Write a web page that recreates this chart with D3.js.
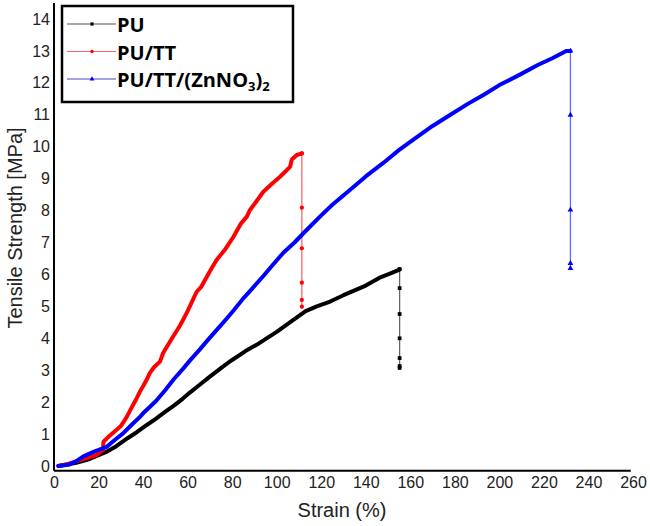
<!DOCTYPE html>
<html>
<head>
<meta charset="utf-8">
<script src="https://cdn.jsdelivr.net/npm/d3@7"></script>
<style>
  html, body { margin: 0; padding: 0; background: #fff; }
  svg { display: block; }
  .tick-label { font-family: "Liberation Sans", Arial, sans-serif; font-size: 16px; fill: #222; }
  .axis-title { font-family: "Liberation Sans", Arial, sans-serif; font-size: 20px; fill: #222; }
  .legend-text { font-family: "Open Sans", Lato, sans-serif; font-weight: bold; font-size: 20px; fill: #000; }
</style>
</head>
<body>
<div id="chart"></div>
<script>
// Tensile strength vs strain, three samples.
// Curves: [strain %, MPa]

const xTicks = [0, 20, 40, 60, 80, 100, 120, 140, 160, 180, 200, 220, 240, 260];
const yTicks = [0, 1, 2, 3, 4, 5, 6, 7, 8, 9, 10, 11, 12, 13, 14];

const puCurve = [
  [2, 0], [10, 0.1], [16, 0.22], [20, 0.34], [24, 0.46], [28, 0.62], [33, 0.87],
  [37, 1.05], [42, 1.3], [46, 1.49], [50, 1.7], [54, 1.9], [58, 2.12], [61, 2.3],
  [65, 2.52], [70, 2.8], [76, 3.12], [80, 3.32], [86, 3.6], [92, 3.84], [96, 4.02],
  [100, 4.2], [105, 4.45], [110, 4.7], [113, 4.85], [118, 5.0], [124, 5.15],
  [130, 5.35], [135, 5.5], [140, 5.65], [146, 5.89], [150, 6.0], [155.2, 6.15]
];
const puDrop = [[155.2, 6.17], [155.2, 5.57], [155.2, 4.76], [155.2, 4.0], [155.2, 3.38], [155.2, 3.13], [155.2, 3.07]];

const puttCurve = [
  [2, 0], [6, 0.06], [12, 0.19], [19, 0.34], [22, 0.5], [22.2, 0.76], [25, 0.95],
  [28, 1.13], [30, 1.25], [32.7, 1.54], [35, 1.85], [37.2, 2.13], [38.6, 2.33],
  [40, 2.5], [41.6, 2.7], [43, 2.91], [45, 3.1], [47.6, 3.27], [49, 3.54], [53, 4.0],
  [56.6, 4.4], [60, 4.85], [64, 5.45], [66, 5.6], [70, 6.1], [73, 6.45], [77, 6.8],
  [80.6, 7.18], [84, 7.6], [86.6, 7.81], [88, 8.02], [91, 8.3], [94, 8.59], [98, 8.85],
  [101.5, 9.06], [106, 9.37], [106.8, 9.6], [109, 9.74], [111.3, 9.79]
];
const puttDrop = [[111.3, 9.79], [111.3, 8.09], [111.3, 6.82], [111.3, 5.74], [111.3, 5.2], [111.3, 4.99]];

const puttZnCurve = [
  [2, 0], [7, 0.05], [10, 0.15], [13.2, 0.3], [18, 0.45], [23.7, 0.6], [27, 0.8],
  [31, 1.02], [35, 1.3], [38.6, 1.54], [40, 1.65], [43, 1.85], [46, 2.05], [50, 2.38],
  [53.6, 2.7], [58, 3.05], [61, 3.3], [65.6, 3.66], [70, 4.02], [74.6, 4.38], [77.6, 4.62],
  [81, 4.9], [85, 5.25], [88, 5.48], [94, 5.95], [98, 6.28], [103, 6.68], [108, 7.0],
  [112, 7.29], [115, 7.5], [120, 7.85], [125, 8.18], [133, 8.65], [140, 9.07], [148, 9.5],
  [155, 9.9], [162, 10.25], [170, 10.65], [178, 11.0], [186, 11.35], [193, 11.63],
  [200, 11.93], [209, 12.25], [217, 12.55], [224, 12.78], [230, 13.0], [231.9, 13.0]
];
const puttZnDrop = [[231.9, 13.0], [231.9, 10.99], [231.9, 8.02], [231.9, 6.35], [231.9, 6.19]];

const seriesNames = ["PU", "PU/TT", "PU/TT/(ZnNO3)2"];
const seriesColors = ["#000000", "#ff0000", "#0000ff"];
const seriesMarkers = [d3.symbolSquare, d3.symbolCircle, d3.symbolTriangle];

const W = 650, H = 526;

const svg = d3.select("#chart").append("svg")
  .attr("width", W)
  .attr("height", H);

const x = d3.scaleLinear().domain([0, 260]).range([54, 633]);
const y = d3.scaleLinear().domain([0, 14]).range([466, 19]);

// axes (plain lines, no tick marks, like the original)
const xAxis = d3.axisBottom(x).tickValues(xTicks).tickSize(0).tickPadding(4);
const yAxis = d3.axisLeft(y).tickValues(yTicks).tickSize(0).tickPadding(4);

const gx = svg.append("g").attr("transform", `translate(0,${y(-0.15)})`).call(xAxis);
gx.select(".domain").attr("d", `M${x(0)},0H${x(259)}`).attr("stroke", "#000").attr("stroke-width", 2);
gx.selectAll("text").attr("class", "tick-label").attr("dy", "0.85em");

const gy = svg.append("g").attr("transform", `translate(${x(0)},0)`).call(yAxis);
gy.select(".domain").attr("d", `M0,${y(-0.15)}V${y(14.5)}`).attr("stroke", "#000").attr("stroke-width", 2);
gy.selectAll("text").attr("class", "tick-label");

svg.append("text")
  .attr("class", "axis-title")
  .attr("x", 342)
  .attr("y", 517)
  .attr("text-anchor", "middle")
  .text("Strain (%)");

svg.append("text")
  .attr("class", "axis-title")
  .attr("transform", "translate(22,228) rotate(-90)")
  .attr("text-anchor", "middle")
  .text("Tensile Strength [MPa]");

const line = d3.line().x(d => x(d[0])).y(d => y(d[1]));

const curves = [puCurve, puttCurve, puttZnCurve];
const drops = [puDrop, puttDrop, puttZnDrop];

// thin drop segments at break, with markers
drops.forEach((pts, i) => {
  svg.append("path")
    .attr("d", line(pts))
    .attr("fill", "none")
    .attr("stroke", seriesColors[i])
    .attr("stroke-opacity", 0.6)
    .attr("stroke-width", 1.3);

  svg.selectAll(null)
    .data(pts)
    .enter()
    .append("path")
    .attr("transform", d => `translate(${x(d[0])},${y(d[1])})`)
    .attr("d", d3.symbol().type(seriesMarkers[i]).size(14))
    .attr("fill", seriesColors[i]);
});

// main curves (dense markers in the original, so drawn as a thick line)
curves.forEach((pts, i) => {
  svg.append("path")
    .attr("d", line(pts))
    .attr("fill", "none")
    .attr("stroke", seriesColors[i])
    .attr("stroke-width", 4)
    .attr("stroke-linejoin", "round")
    .attr("stroke-linecap", "round");
});

// legend
const legend = svg.append("g");
legend.append("rect")
  .attr("x", 62).attr("y", 6)
  .attr("width", 231).attr("height", 96)
  .attr("fill", "#fff")
  .attr("stroke", "#000")
  .attr("stroke-width", 2.5);

const legendLineColors = ["#555", "#ff6666", "#4444cc"];
seriesNames.forEach((name, i) => {
  const ly = 24 + i * 27.5;
  legend.append("line")
    .attr("x1", 67).attr("x2", 116)
    .attr("y1", ly).attr("y2", ly)
    .attr("stroke", legendLineColors[i])
    .attr("stroke-width", 1.2);
  legend.append("path")
    .attr("transform", `translate(92,${ly})`)
    .attr("d", d3.symbol().type(seriesMarkers[i]).size(10))
    .attr("fill", seriesColors[i]);

  const t = legend.append("text")
    .attr("class", "legend-text")
    .attr("x", 117)
    .attr("y", ly + 8);
  if (i === 2) {
    t.append("tspan").text("PU/TT/(ZnNO");
    t.append("tspan").attr("font-size", "13px").attr("dy", 4).text("3");
    t.append("tspan").attr("dy", -4).text(")");
    t.append("tspan").attr("font-size", "13px").attr("dy", 4).text("2");
  } else {
    t.text(name);
  }
});
</script>
</body>
</html>
